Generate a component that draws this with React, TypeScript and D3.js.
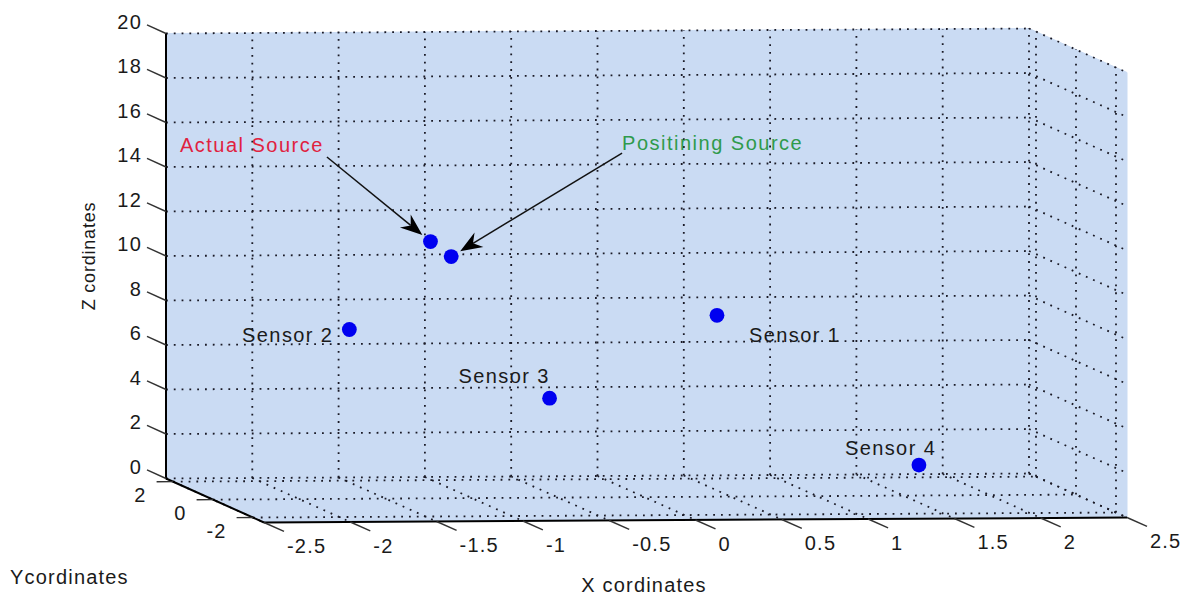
import React, { useEffect, useRef } from 'react';
import * as d3 from 'd3';

// axis limits and ticks
const xLimits = [-2.5, 2.5];
const yLimits = [-2.55, 2.35];
const zLimits = [0, 20];
const xTicks = [-2.5, -2, -1.5, -1, -0.5, 0, 0.5, 1, 1.5, 2, 2.5];
const yTicks = [-2, 0, 2];
const zTicks = [0, 2, 4, 6, 8, 10, 12, 14, 16, 18, 20];

// sensors (depth can't be read from the view, assumed y = 0)
const sensorNames = ['Sensor 1', 'Sensor 2', 'Sensor 3', 'Sensor 4'];
const sensorX = [0.42, -1.71, -0.55, 1.59];
const sensorY = [0, 0, 0, 0];
const sensorZ = [8.15, 7.61, 4.47, 1.37];

// sources
const sourceNames = ['Actual Source', 'Positining Source'];
const sourceX = [-1.24, -1.12];
const sourceY = [0, 0];
const sourceZ = [11.54, 10.86];

// annotation arrow tails, in data space
const arrowTailX = [-1.84, -0.13];
const arrowTailZ = [15.37, 15.47];

// layout / style
const W = 1186;
const H = 596;
const origin = [166, 478.5];
const FONT = "'Liberation Sans', Arial, sans-serif";
const planeFill = '#cadbf3';
const gridColor = '#1a1a26';
const sourceColors = ['#e0223f', '#2f9a4c'];
const sensorLabelOffset = [
  { dx: 32, dy: 27, anchor: 'start' },
  { dx: -16, dy: 13, anchor: 'end' },
  { dx: -91, dy: -15, anchor: 'start' },
  { dx: -74, dy: -10, anchor: 'start' },
];

export default function App() {
  const svgRef = useRef(null);

  useEffect(() => {
    const svg = d3.select(svgRef.current);
    svg.selectAll('*').remove();

    // oblique orthographic projection of the 3d box
    const xH = d3.scaleLinear().domain(xLimits).range([0, 863]);
    const xV = d3.scaleLinear().domain(xLimits).range([0, -5]);
    const yH = d3.scaleLinear().domain([yLimits[1], yLimits[0]]).range([0, 98]);
    const yV = d3.scaleLinear().domain([yLimits[1], yLimits[0]]).range([0, 44]);
    const zV = d3.scaleLinear().domain(zLimits).range([0, -445]);
    const project = (x, y, z) => [
      origin[0] + xH(x) + yH(y),
      origin[1] + xV(x) + yV(y) + zV(z),
    ];

    const [x0, x1] = xLimits;
    const [y0, y1] = yLimits;
    const [z0, z1] = zLimits;

    const poly = d3.line().x(d => d[0]).y(d => d[1]);
    const planes = [
      // floor
      [[x0, y1, z0], [x1, y1, z0], [x1, y0, z0], [x0, y0, z0]],
      // back wall
      [[x0, y1, z0], [x1, y1, z0], [x1, y1, z1], [x0, y1, z1]],
      // right wall
      [[x1, y1, z0], [x1, y0, z0], [x1, y0, z1], [x1, y1, z1]],
    ];
    svg.append('g')
      .selectAll('path')
      .data(planes)
      .join('path')
      .attr('d', d => poly(d.map(p => project(p[0], p[1], p[2]))) + 'Z')
      .attr('fill', planeFill)
      .attr('stroke', planeFill)
      .attr('stroke-width', 1);

    // grid segments
    const segs = [];
    xTicks.forEach(x => {
      segs.push([[x, y1, z0], [x, y1, z1]]);
      segs.push([[x, y1, z0], [x, y0, z0]]);
    });
    zTicks.forEach(z => {
      segs.push([[x0, y1, z], [x1, y1, z]]);
      segs.push([[x1, y1, z], [x1, y0, z]]);
    });
    yTicks.forEach(y => {
      segs.push([[x0, y, z0], [x1, y, z0]]);
      segs.push([[x1, y, z0], [x1, y, z1]]);
    });
    svg.append('g')
      .selectAll('line')
      .data(segs)
      .join('line')
      .each(function (d) {
        const a = project(d[0][0], d[0][1], d[0][2]);
        const b = project(d[1][0], d[1][1], d[1][2]);
        d3.select(this)
          .attr('x1', a[0]).attr('y1', a[1])
          .attr('x2', b[0]).attr('y2', b[1]);
      })
      .attr('stroke', gridColor)
      .attr('stroke-width', 1.8)
      .attr('stroke-dasharray', '1.8 6');

    // axis lines
    const axes = [
      [[x0, y1, z0], [x0, y1, z1]],
      [[x0, y1, z0], [x0, y0, z0]],
      [[x0, y0, z0], [x1, y0, z0]],
    ];
    svg.append('g')
      .selectAll('line')
      .data(axes)
      .join('line')
      .each(function (d) {
        const a = project(d[0][0], d[0][1], d[0][2]);
        const b = project(d[1][0], d[1][1], d[1][2]);
        d3.select(this)
          .attr('x1', a[0]).attr('y1', a[1])
          .attr('x2', b[0]).attr('y2', b[1]);
      })
      .attr('stroke', '#000')
      .attr('stroke-width', 2);

    const tickG = svg.append('g');
    const labelG = svg.append('g')
      .attr('font-family', FONT)
      .attr('font-size', 20)
      .attr('letter-spacing', 1.2)
      .attr('fill', '#1a1a1a');

    const tick = (a, b) => tickG.append('line')
      .attr('x1', a[0]).attr('y1', a[1])
      .attr('x2', b[0]).attr('y2', b[1])
      .attr('stroke', '#333')
      .attr('stroke-width', 1.4);

    // z ticks
    zTicks.forEach(z => {
      const a = project(x0, y1, z);
      const b = project(x0, y1 + 0.95, z);
      tick(a, b);
      labelG.append('text')
        .attr('x', b[0] - 5)
        .attr('y', b[1] + 4)
        .attr('text-anchor', 'end')
        .text(z);
    });

    // y ticks
    yTicks.forEach(y => {
      const a = project(x0, y, z0);
      const b = project(x0 - 0.095, y, z0);
      tick(a, b);
      labelG.append('text')
        .attr('x', b[0] - 10)
        .attr('y', b[1] + 20)
        .attr('text-anchor', 'end')
        .text(y);
    });

    // x ticks
    xTicks.forEach(x => {
      const a = project(x, y0, z0);
      const b = project(x, y0 - 1, z0);
      tick(a, b);
      labelG.append('text')
        .attr('x', b[0] + 3)
        .attr('y', b[1] + 22)
        .attr('text-anchor', 'start')
        .text(x);
    });

    // axis titles
    labelG.append('text')
      .attr('x', 644).attr('y', 592)
      .attr('text-anchor', 'middle')
      .text('X cordinates');
    labelG.append('text')
      .attr('x', 10).attr('y', 584)
      .text('Ycordinates');
    labelG.append('text')
      .attr('transform', 'translate(95,256) rotate(-90)')
      .attr('text-anchor', 'middle')
      .attr('font-size', 18)
      .attr('letter-spacing', 0.8)
      .text('Z cordinates');

    // points
    const pts = [
      ...sensorNames.map((n, i) => ({ p: project(sensorX[i], sensorY[i], sensorZ[i]) })),
      ...sourceNames.map((n, i) => ({ p: project(sourceX[i], sourceY[i], sourceZ[i]) })),
    ];
    svg.append('g')
      .selectAll('circle')
      .data(pts)
      .join('circle')
      .attr('cx', d => d.p[0])
      .attr('cy', d => d.p[1])
      .attr('r', 7.4)
      .attr('fill', '#0000f0');

    // sensor labels
    sensorNames.forEach((n, i) => {
      const p = project(sensorX[i], sensorY[i], sensorZ[i]);
      const o = sensorLabelOffset[i];
      labelG.append('text')
        .attr('x', p[0] + o.dx)
        .attr('y', p[1] + o.dy)
        .attr('text-anchor', o.anchor)
        .attr('letter-spacing', 1.4)
        .text(n);
    });

    // annotation arrows
    const arrowG = svg.append('g');
    sourceNames.forEach((n, i) => {
      const tail = project(arrowTailX[i], 0, arrowTailZ[i]);
      const dot = project(sourceX[i], sourceY[i], sourceZ[i]);
      const dx = dot[0] - tail[0];
      const dy = dot[1] - tail[1];
      const len = Math.hypot(dx, dy);
      const ux = dx / len;
      const uy = dy / len;
      const tip = [dot[0] - ux * 10.5, dot[1] - uy * 10.5];
      const hl = 22;
      const hw = 8.5;
      const notch = 15;
      const base = [tip[0] - ux * hl, tip[1] - uy * hl];
      const mid = [tip[0] - ux * notch, tip[1] - uy * notch];
      arrowG.append('line')
        .attr('x1', tail[0]).attr('y1', tail[1])
        .attr('x2', mid[0]).attr('y2', mid[1])
        .attr('stroke', '#111')
        .attr('stroke-width', 1.5);
      arrowG.append('path')
        .attr('d', `M${tip[0]},${tip[1]}L${base[0] - uy * hw},${base[1] + ux * hw}L${mid[0]},${mid[1]}L${base[0] + uy * hw},${base[1] - ux * hw}Z`)
        .attr('fill', '#000');

      const label = labelG.append('text')
        .attr('fill', sourceColors[i])
        .attr('letter-spacing', 1.5)
        .text(n);
      if (i === 0) {
        label.attr('x', tail[0] - 3).attr('y', tail[1] - 5).attr('text-anchor', 'end');
      } else {
        label.attr('x', tail[0]).attr('y', tail[1] - 3).attr('text-anchor', 'start');
      }
    });
  }, []);

  return (
    <svg
      ref={svgRef}
      width={W}
      height={H}
      style={{ position: 'absolute', left: 0, top: 0, background: '#fff' }}
    />
  );
}
